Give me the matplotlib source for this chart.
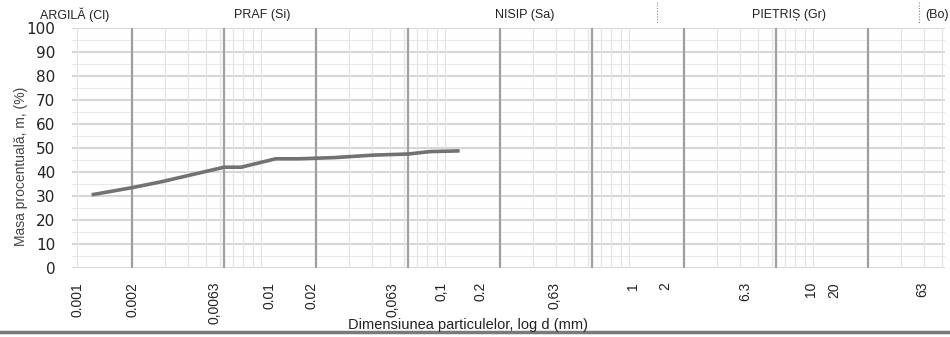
import numpy as np
import matplotlib.pyplot as plt
from matplotlib.lines import Line2D

# grain size curve (mm, % passing)
diam = [0.0012, 0.002, 0.0029, 0.0063, 0.0078, 0.012, 0.016, 0.025, 0.04, 0.063, 0.083, 0.12]
pct = [30.5, 33.5, 36.0, 42.0, 42.0, 45.5, 45.5, 46.0, 47.0, 47.5, 48.5, 48.8]

tick_text = ["0.001", "0.002", "0,0063", "0.01", "0.02", "0,063", "0,1", "0.2",
             "0,63", "1", "2", "6.3", "10", "20", "63"]
# where the typed labels sit on the scanned sheet (mm on the log axis)
tick_pos = [0.001, 0.002, 0.0056, 0.0111, 0.0189, 0.0517, 0.0955, 0.155,
            0.395, 1.05, 1.57, 4.3, 9.7, 13.0, 39.0]
major_lines = [0.002, 0.0063, 0.02, 0.063, 0.2, 0.63, 2, 6.3, 20]

zones = ["ARGILĂ (Cl)", "PRAF (Si)", "NISIP (Sa)", "PIETRIȘ (Gr)", "(Bo)"]
zone_x = [75, 262, 525, 789, 937]

W, H = 950, 337
fig = plt.figure(figsize=(W / 100, H / 100), dpi=100)
ax = fig.add_axes([72 / W, 1 - 268 / H, (945 - 72) / W, (268 - 28) / H])

ax.set_xscale("log")
ax.set_xlim(0.000939, 52.1)
ax.set_ylim(0, 100)

# background grid like the printed sheet
for y in np.arange(5, 100, 10):
    ax.axhline(y, color="#e8e8e8", lw=0.8, zorder=0)
for y in np.arange(0, 101, 10):
    ax.axhline(y, color="#cacaca", lw=1.1, zorder=0)
for dec in [0.001, 0.01, 0.1, 1, 10]:
    for k in range(1, 10):
        v = dec * k
        if 0.000939 < v < 52.1:
            ax.axvline(v, color="#e4e4e4", lw=0.9, zorder=0)
for v in major_lines:
    ax.axvline(v, color="#a0a0a0", lw=1.6, zorder=0)

ax.plot(diam, pct, color="#727272", lw=2.6, solid_capstyle="butt", zorder=3)

for s in ax.spines.values():
    s.set_visible(False)

ax.set_yticks(np.arange(0, 101, 10))
ax.tick_params(axis="y", length=0, pad=12, labelsize=11)
ax.set_xticks(tick_pos, tick_text)
ax.minorticks_off()
ax.set_xticks([], minor=True)
ax.tick_params(axis="x", length=0, pad=10, labelsize=10, labelrotation=90)
for lab in ax.get_xticklabels():
    lab.set_family("Liberation Sans")
    lab.set_color("#222222")
for lab in ax.get_yticklabels():
    lab.set_color("#222222")

ax.set_ylabel("Masa procentuală, m, (%)", fontsize=10, family="Liberation Sans",
              color="#444444")
ax.yaxis.set_label_coords(-44 / 873, (268 - 166) / 240)
fig.text(468 / W, 1 - 325 / H, "Dimensiunea particulelor, log d (mm)",
         ha="center", va="center", fontsize=10.5, family="Liberation Sans", color="#222222")

for name, xp in zip(zones, zone_x):
    fig.text(xp / W, 1 - 15 / H, name, ha="center", va="center", fontsize=9,
             family="Liberation Sans", color="#222222")
for xp in [657, 919]:
    fig.add_artist(Line2D([xp / W, xp / W], [1 - 2 / H, 1 - 24 / H], color="#888888",
                          lw=0.8, ls=(0, (1, 1.5))))

# dark edge at the bottom of the scan
fig.add_artist(Line2D([0, 1], [1 - 332 / H, 1 - 332 / H], color="#7a7a7a", lw=2.5))

fig.savefig("out.png", dpi=100)
